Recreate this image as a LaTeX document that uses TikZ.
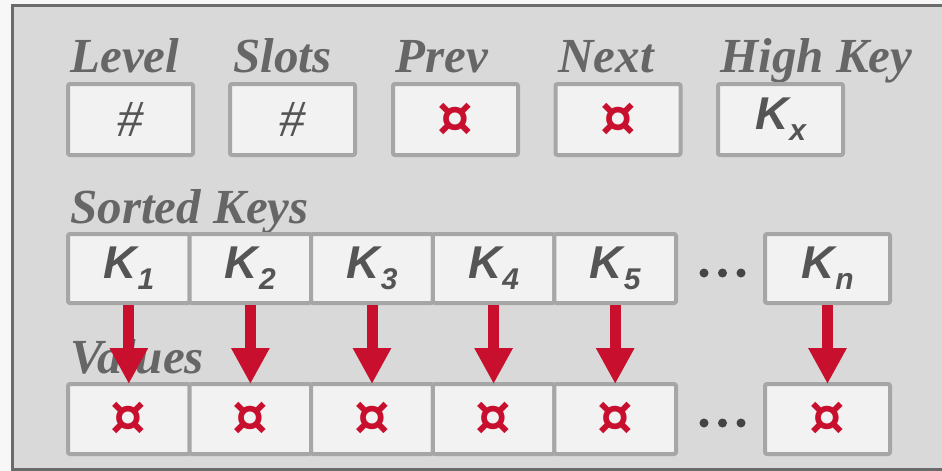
\documentclass[tikz,border=0pt]{standalone}
\usepackage{fontspec}
\setmainfont{Liberation Serif}
\newfontfamily\keyfont{Liberation Sans}
\newfontfamily\symfont{DejaVu Sans}
\usetikzlibrary{arrows.meta}
\definecolor{outerbg}{HTML}{F7F7F7}
\definecolor{framefill}{HTML}{D9D9D9}
\definecolor{frameline}{HTML}{6B6B6B}
\definecolor{cellfill}{HTML}{F2F2F2}
\definecolor{cellline}{HTML}{A6A6A6}
\definecolor{labelgray}{HTML}{666666}
\definecolor{keygray}{HTML}{555555}
\definecolor{ptrred}{HTML}{C8102E}
\definecolor{dotgray}{HTML}{444444}
\newcommand{\keytxt}[1]{{\keyfont\bfseries\itshape\fontsize{23}{23}\selectfont K\kern0.5pt\raisebox{-5.5pt}{\fontsize{15}{15}\selectfont #1}}}
\newcommand{\ptr}{{\symfont\bfseries\fontsize{28}{28}\selectfont ¤}}
\begin{document}
\begin{tikzpicture}[x=0.5pt,y=-0.5pt,
  fieldlabel/.style={anchor=base west,inner sep=0pt,text=labelgray,font=\bfseries\itshape\fontsize{24.5}{24.5}\selectfont},
  cellbox/.style={draw=cellline,fill=cellfill,line width=2pt,rounded corners=1pt,inner sep=0pt,minimum height=35pt},
  topbox/.style={cellbox,minimum width=62.5pt,minimum height=35.5pt},
  keybox/.style={cellbox,minimum width=60.8pt,minimum height=34.5pt,text=keygray},
  valbox/.style={cellbox,minimum width=60.8pt,minimum height=35pt,text=ptrred},
  hashtxt/.style={text=keygray,font=\itshape\fontsize{26}{26}\selectfont},
  arr/.style={draw=ptrred,line width=5.5pt,-{Triangle[length=18pt,width=18pt]},shorten >=-1pt},
  dot/.style={fill=dotgray,draw=none}
]
\clip (0,0) rectangle (942,471);
\fill[outerbg] (0,0) rectangle (942,471);
\draw[frameline,fill=framefill,line width=1.5pt] (12,5) rectangle (960,469);

% top field labels
\node[fieldlabel] (lLevel) at (70,72) {Level};
\node[fieldlabel] (lSlots) at (233,72) {Slots};
\node[fieldlabel] (lPrev) at (395,72) {Prev};
\node[fieldlabel] (lNext) at (558,72) {Next};
\node[fieldlabel] (lHigh) at (720,72) {High Key};

% top boxes
\node[topbox,hashtxt] (bLevel) at (130.5,119.5) {\#};
\node[topbox,hashtxt] (bSlots) at (292.5,119.5) {\#};
\node[topbox,text=ptrred] (bPrev) at (455.5,119.5) {\ptr};
\node[topbox,text=ptrred] (bNext) at (618,119.5) {\ptr};
\node[topbox,text=keygray] (bHigh) at (780.5,119.5) {\keytxt{x}};

% sorted keys
\node[fieldlabel] (lKeys) at (70,223) {Sorted Keys};
\node[keybox] (k1) at (128.8,268.5) {\keytxt{1}};
\node[keybox] (k2) at (250.4,268.5) {\keytxt{2}};
\node[keybox] (k3) at (372.0,268.5) {\keytxt{3}};
\node[keybox] (k4) at (493.6,268.5) {\keytxt{4}};
\node[keybox] (k5) at (615.2,268.5) {\keytxt{5}};
\node[keybox,minimum width=62.5pt] (kn) at (827.5,268.5) {\keytxt{n}};
\fill[dot] (704,273) circle (4.5) (722.5,273) circle (4.5) (741,273) circle (4.5);

% values
\node[fieldlabel] (lVals) at (70,373) {Values};
\node[valbox] (v1) at (128.8,419) {\ptr};
\node[valbox] (v2) at (250.4,419) {\ptr};
\node[valbox] (v3) at (372.0,419) {\ptr};
\node[valbox] (v4) at (493.6,419) {\ptr};
\node[valbox] (v5) at (615.2,419) {\ptr};
\node[valbox,minimum width=62.5pt] (vn) at (827.5,419) {\ptr};
\fill[dot] (704,423) circle (4.5) (722.5,423) circle (4.5) (741,423) circle (4.5);

% arrows
\draw[arr] (k1.south) -- (v1.north);
\draw[arr] (k2.south) -- (v2.north);
\draw[arr] (k3.south) -- (v3.north);
\draw[arr] (k4.south) -- (v4.north);
\draw[arr] (k5.south) -- (v5.north);
\draw[arr] (kn.south) -- (vn.north);
\end{tikzpicture}
\end{document}
